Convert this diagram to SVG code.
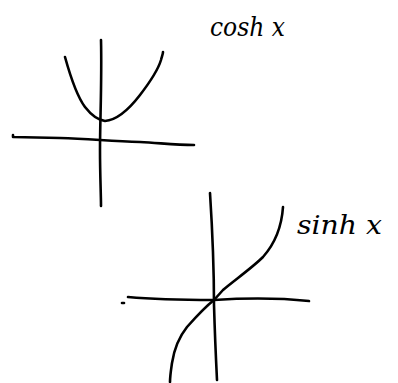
<svg xmlns="http://www.w3.org/2000/svg" width="398" height="383" viewBox="0 0 398 383">
<style>
.ln{fill:none;stroke:#000;stroke-width:2.6;stroke-linecap:round;stroke-linejoin:round}
.lb{font-family:"DejaVu Serif","Liberation Serif",serif;font-style:italic;font-size:26px;fill:#000}
</style>
<rect width="398" height="383" fill="#fff"/>
<g id="cosh-graph">
<path class="ln" d="M13,135 L13,137 L60,138 C90,139 110,141 140,142 C160,143 175,145 194,145"/>
<path class="ln" d="M101,40 C102,80 100,120 100,150 C100,175 101,195 101,206"/>
<path class="ln" d="M65,57 C70,75 76,95 85,107 C92,116 98,120 105,121 C118,120 130,108 140,95 C150,82 158,70 161,60 C162,56 163,54 163,52"/>
<text class="lb" x="210" y="36" textLength="75" lengthAdjust="spacingAndGlyphs">cosh x</text>
</g>
<g id="sinh-graph">
<path class="ln" d="M128,297 C160,300 190,300 214,300 C245,298 280,298 309,301"/>
<path class="ln" d="M122,303 L124,303"/>
<path class="ln" d="M210,193 C213,240 214,280 214,305 C215,340 216,360 217,380"/>
<path class="ln" d="M283,207 C282,222 278,240 263,257 C252,268 232,282 223,290 L214,300 C205,307 195,318 187,327 C179,337 174,350 172,363 C171,370 170,376 170,382"/>
<text class="lb" x="297" y="234" textLength="85" lengthAdjust="spacingAndGlyphs">sinh x</text>
</g>
</svg>
